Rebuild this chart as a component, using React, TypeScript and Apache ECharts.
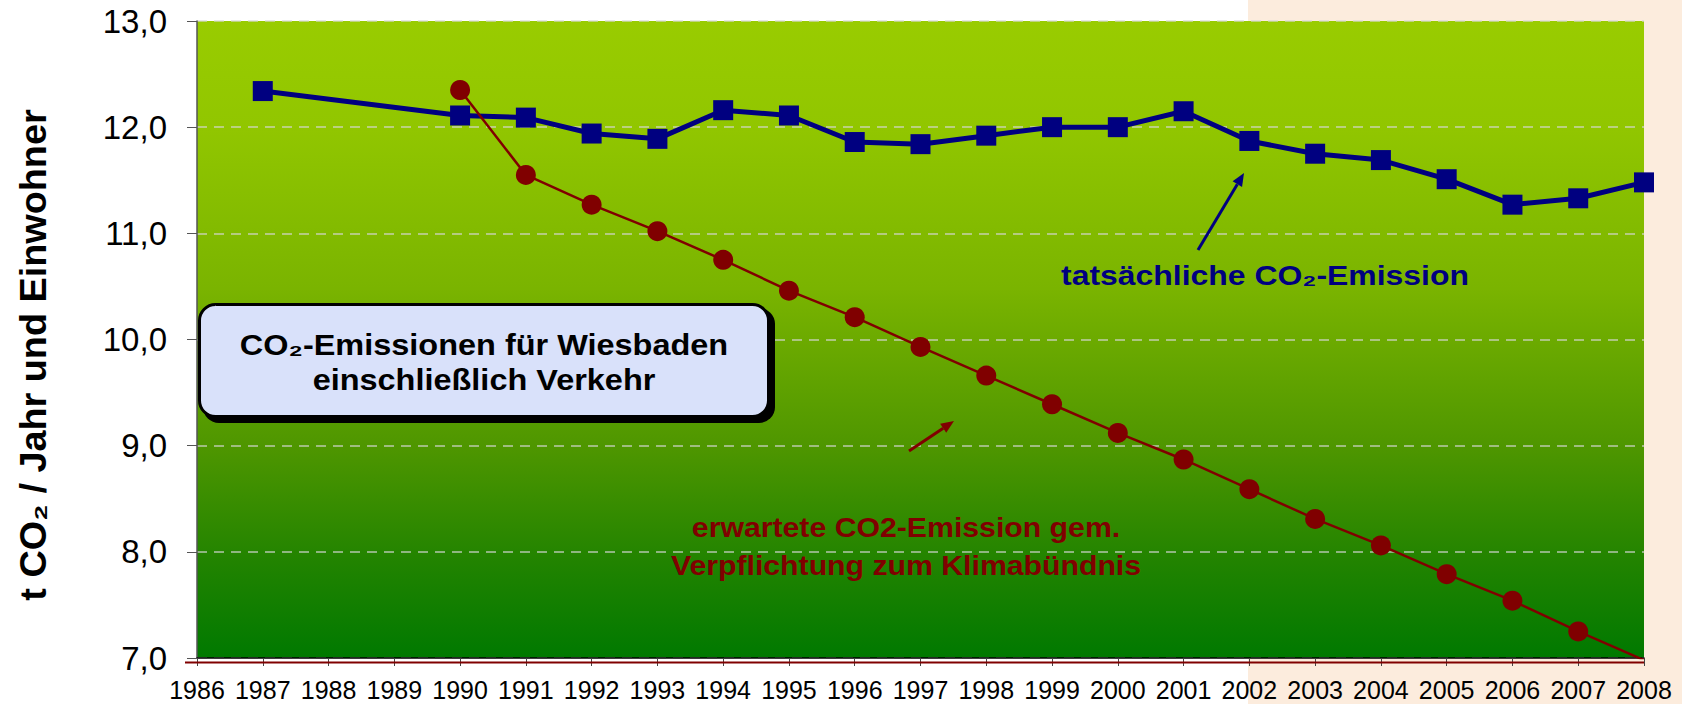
import React, { useEffect, useRef } from "react";
import * as echarts from "echarts";

const years = [
  "1986", "1987", "1988", "1989", "1990", "1991", "1992", "1993", "1994", "1995", "1996", "1997",
  "1998", "1999", "2000", "2001", "2002", "2003", "2004", "2005", "2006", "2007", "2008",
];

const actualEmission = [
  null, 12.34, null, null, 12.11, 12.09, 11.94, 11.89, 12.16, 12.11, 11.86, 11.84,
  11.92, 12.0, 12.0, 12.15, 11.87, 11.75, 11.69, 11.51, 11.27, 11.33, 11.48,
];

const expectedEmission = [
  null, null, null, null, 12.35, 11.55, 11.27, 11.02, 10.75, 10.46, 10.21, 9.93,
  9.66, 9.39, 9.12, 8.87, 8.59, 8.31, 8.06, 7.79, 7.54, 7.25, 6.98,
];

const yMin = 7;
const yMax = 13;
const yStep = 1;

const FONT = "'Liberation Sans', Arial, Helvetica, sans-serif";

function arrow(x1: number, y1: number, x2: number, y2: number, color: string) {
  const dx = x2 - x1;
  const dy = y2 - y1;
  const len = Math.sqrt(dx * dx + dy * dy);
  const ux = dx / len;
  const uy = dy / len;
  const head = 13;
  const half = 5.5;
  const bx = x2 - head * ux;
  const by = y2 - head * uy;
  const nx = -uy;
  const ny = ux;
  return [
    {
      type: "line",
      z: 50,
      shape: { x1, y1, x2: bx, y2: by },
      style: { stroke: color, lineWidth: 3 },
    },
    {
      type: "polygon",
      z: 50,
      shape: {
        points: [
          [x2, y2],
          [bx + half * nx, by + half * ny],
          [bx - half * nx, by - half * ny],
        ],
      },
      style: { fill: color },
    },
  ];
}

export default function App() {
  const ref = useRef<HTMLDivElement>(null);

  useEffect(() => {
    if (!ref.current) return;
    const chart = echarts.init(ref.current, undefined, { renderer: "svg" });

    const peachStart = 1248 / 1682;
    const lastIdx = expectedEmission.length - 1;

    const option: any = {
      animation: false,
      backgroundColor: new echarts.graphic.LinearGradient(0, 0, 1, 0, [
        { offset: 0, color: "#ffffff" },
        { offset: peachStart, color: "#ffffff" },
        { offset: peachStart, color: "#FCECDD" },
        { offset: 1, color: "#FCECDD" },
      ]),
      grid: {
        left: 197,
        right: 38,
        top: 21,
        bottom: 46,
        show: true,
        borderWidth: 0,
        backgroundColor: new echarts.graphic.LinearGradient(0, 0, 0, 1, [
          { offset: 0, color: "#99CC00" },
          { offset: 0.17, color: "#91C600" },
          { offset: 0.42, color: "#7AB400" },
          { offset: 0.67, color: "#4E9600" },
          { offset: 0.85, color: "#218300" },
          { offset: 1, color: "#007900" },
        ]),
      },
      xAxis: {
        type: "category",
        data: years,
        boundaryGap: false,
        axisLine: { show: true, lineStyle: { color: "#000", width: 1.5 } },
        axisTick: { show: true, length: 8, interval: 0, lineStyle: { color: "#444", width: 1 } },
        axisLabel: {
          interval: 0,
          fontSize: 25,
          lineHeight: 25,
          color: "#000",
          margin: 19,
          fontFamily: FONT,
        },
        splitLine: { show: false },
      },
      yAxis: {
        type: "value",
        min: yMin,
        max: yMax,
        interval: yStep,
        axisLine: { show: true, lineStyle: { color: "#555", width: 1.5 } },
        axisTick: { show: true, length: 10, lineStyle: { color: "#555", width: 1 } },
        axisLabel: {
          fontSize: 33,
          color: "#000",
          margin: 30,
          fontFamily: FONT,
          formatter: (v: number) => v.toFixed(1).replace(".", ","),
        },
        splitLine: {
          show: true,
          lineStyle: { type: [10, 7], color: "rgba(215,215,215,0.8)", width: 1.5 },
        },
      },
      series: [
        {
          name: "tatsächliche CO₂-Emission",
          type: "line",
          data: actualEmission,
          connectNulls: true,
          symbol: "rect",
          symbolSize: 20,
          lineStyle: { color: "#000080", width: 5 },
          itemStyle: { color: "#000080" },
          z: 3,
        },
        {
          name: "erwartete CO2-Emission gem. Verpflichtung zum Klimabündnis",
          type: "line",
          data: expectedEmission.map((v, i) =>
            i === lastIdx ? { value: v, symbol: "none" } : v
          ),
          connectNulls: true,
          symbol: "circle",
          symbolSize: 20,
          lineStyle: { color: "#800000", width: 2.5 },
          itemStyle: { color: "#800000" },
          z: 4,
        },
      ],
      graphic: [
        {
          type: "line",
          z: 20,
          shape: { x1: 185, y1: 662.5, x2: 1644, y2: 662.5 },
          style: { stroke: "#800000", lineWidth: 2 },
        },
        {
          type: "text",
          x: 34,
          y: 355,
          rotation: Math.PI / 2,
          scaleX: 1.05,
          style: {
            text: "t CO₂ / Jahr und Einwohner",
            font: `bold 36px ${FONT}`,
            fill: "#000",
            align: "center",
            verticalAlign: "middle",
          },
        },
        {
          type: "rect",
          z: 40,
          shape: { x: 203, y: 308, width: 572, height: 115, r: 16 },
          style: { fill: "#000" },
        },
        {
          type: "rect",
          z: 41,
          shape: { x: 199.5, y: 304.5, width: 569, height: 112, r: 16 },
          style: { fill: "#D9E1FA", stroke: "#000", lineWidth: 3 },
        },
        {
          type: "text",
          z: 42,
          x: 484,
          y: 345,
          scaleX: 1.12,
          style: {
            text: "CO₂-Emissionen für Wiesbaden",
            font: `bold 29px ${FONT}`,
            fill: "#000",
            align: "center",
            verticalAlign: "middle",
          },
        },
        {
          type: "text",
          z: 42,
          x: 484,
          y: 380,
          scaleX: 1.12,
          style: {
            text: "einschließlich Verkehr",
            font: `bold 29px ${FONT}`,
            fill: "#000",
            align: "center",
            verticalAlign: "middle",
          },
        },
        {
          type: "text",
          z: 42,
          x: 1265,
          y: 275,
          scaleX: 1.14,
          style: {
            text: "tatsächliche CO₂-Emission",
            font: `bold 28px ${FONT}`,
            fill: "#000080",
            align: "center",
            verticalAlign: "middle",
          },
        },
        {
          type: "text",
          z: 42,
          x: 906,
          y: 527,
          scaleX: 1.08,
          style: {
            text: "erwartete CO2-Emission gem.",
            font: `bold 28px ${FONT}`,
            fill: "#800000",
            align: "center",
            verticalAlign: "middle",
          },
        },
        {
          type: "text",
          z: 42,
          x: 906,
          y: 565,
          scaleX: 1.08,
          style: {
            text: "Verpflichtung zum Klimabündnis",
            font: `bold 28px ${FONT}`,
            fill: "#800000",
            align: "center",
            verticalAlign: "middle",
          },
        },
        ...arrow(1198, 250, 1244, 173, "#000080"),
        ...arrow(909, 451, 954, 421, "#800000"),
      ],
    };

    chart.setOption(option);
    return () => chart.dispose();
  }, []);

  return (
    <div
      ref={ref}
      style={{ position: "absolute", left: 0, top: 0, width: 1682, height: 704 }}
    />
  );
}
